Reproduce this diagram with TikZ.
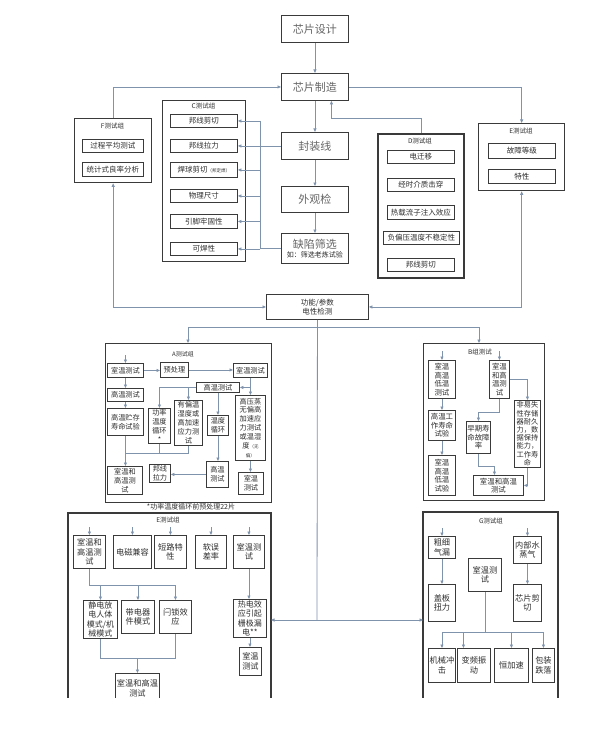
\documentclass[tikz,border=0pt]{standalone}
\usepackage{fontspec}
\setmainfont{Noto Sans CJK SC}
\usetikzlibrary{arrows.meta}
\definecolor{lnc}{HTML}{7F93AD}
\definecolor{bdc}{HTML}{3A3A3A}
\definecolor{txc}{HTML}{2E2E2E}
\tikzset{
 bx/.style={draw=bdc,line width=0.9pt,fill=white,inner sep=0pt,align=center,text=txc,font=\fontsize{7.5}{9}\selectfont},
 grp/.style={line width=1.3pt},
 grpd/.style={line width=1.9pt},
 fsT/.style={font=\fontsize{11}{13}\selectfont,text=black!60},
 fsA/.style={font=\fontsize{7.2}{8.9}\selectfont},
 fsB/.style={font=\fontsize{7.4}{8.6}\selectfont},
 fsE/.style={font=\fontsize{8.2}{9.6}\selectfont},
 ttl/.style={font=\fontsize{6.5}{7.5}\selectfont,text=txc,inner sep=0pt},
 cn/.style={draw=lnc,line width=0.8pt,-{Triangle[length=3.5pt,width=3pt]}},
 bcn/.style={draw=lnc,line width=0.8pt,{Triangle[length=3.5pt,width=3pt]}-{Triangle[length=3.5pt,width=3pt]}},
 ln/.style={draw=lnc,line width=0.8pt},
 gline/.style={draw=bdc,line width=1.3pt},
}
\newcommand\bx[6][]{\node[bx,minimum width=#4pt,minimum height=#5pt,anchor=north west,#1] (#2) at (#3) {#6};}
\begin{document}
\begin{tikzpicture}[x=1pt,y=-1pt]
\useasboundingbox (0,0) rectangle (597,741);
\fill[white] (0,0) rectangle (597,741);
\begin{scope}
\clip (0,0) rectangle (597,697);
% ---------- main flow ----------
\bx[fsT]{des}{281,15}{67}{27}{芯片设计}
\bx[fsT]{mfg}{281,73}{67}{27}{芯片制造}
\bx[fsT]{pkg}{281,132}{67}{27}{封装线}
\bx[fsT]{vis}{281,186}{67}{26}{外观检}
\bx{scr}{281,233}{67}{30}{{\fontsize{11}{12}\selectfont\color{black!60}缺陷筛选}\\{\fontsize{7}{8}\selectfont 如：筛选老炼试验}}
\draw[cn] (des) -- (mfg);
\draw[cn] (mfg) -- (pkg);
\draw[cn] (pkg) -- (vis);
\draw[cn] (vis) -- (scr);
% ---------- F group ----------
\bx[grp]{F}{74,118}{77}{64}{}
\node[ttl] (Ft) at (112.5,126) {F测试组};
\bx{f1}{82,139}{61}{13}{过程平均测试}
\bx{f2}{82,162}{61}{14}{统计式良率分析}
\draw[cn] (F.north) |- (mfg.west);
% ---------- C group ----------
\bx[grp]{C}{162,100}{83}{161}{}
\node[ttl] (Ct) at (203.5,106) {C测试组};
\bx{c1}{170,114}{67}{13}{邦线剪切}
\bx{c2}{170,139}{67}{13}{邦线拉力}
\bx{c3}{170,162}{67}{15}{焊球剪切{\fontsize{4.5}{5}\selectfont（邦定焊）}}
\bx{c4}{170,189}{67}{13}{物理尺寸}
\bx{c5}{170,214}{67}{14}{引脚牢固性}
\bx{c6}{170,242}{67}{13}{可焊性}
\coordinate (bus) at (260,0);
\draw[ln] (pkg.west) -- (pkg.west -| bus);
\draw[ln] (scr.west) -- (scr.west -| bus);
\draw[ln] (c1.east -| bus) -- (c6.east -| bus);
\foreach \c in {c1,c2,c3,c4,c5,c6} \draw[cn] (\c.east -| bus) -- (\c.east);
% ---------- D group ----------
\bx[grpd]{D}{377,133}{86}{144}{}
\node[ttl] (Dt) at (420,141) {D测试组};
\bx{d1}{387,150}{67}{13}{电迁移}
\bx{d2}{387,178}{67}{13}{经时介质击穿}
\bx{d3}{387,205}{67}{14}{热载流子注入效应}
\bx{d4}{383,231}{76}{13}{负偏压温度不稳定性}
\bx{d5}{387,258}{67}{13}{邦线剪切}
\draw[cn] (D.north) -- ++(0,-15) -| ([xshift=16.5pt]mfg.south);
% ---------- E group (top) ----------
\bx[grp]{Et}{478,123}{86}{67}{}
\node[ttl] (Ett) at (521,131) {E测试组};
\bx{et1}{488,143}{67}{15}{故障等级}
\bx{et2}{488,169}{67}{14}{特性}
\draw[cn] (mfg.east) -| (Et.north);
% ---------- function test ----------
\bx{func}{266,294}{102}{25}{功能/参数\\电性检测}
\draw[bcn] (F.south) |- (func.west);
\draw[bcn] (Et.south) |- (func.east);
\coordinate (hl) at (188,327);
\coordinate (hr) at (479,327);
\coordinate (cm) at (317,620);
\draw[ln] (func.south) -- (cm);
\draw[ln] (hl) -- (hr);
% ---------- A group ----------
\bx[grp]{A}{105,343}{166}{159}{}
\draw[cn] (hl) -- (hl |- A.north);
\node[ttl,font=\fontsize{6}{7}\selectfont] (At) at (183,354) {A测试组};
\bx[fsA]{aL1}{107,363}{36}{14}{室温测试}
\bx[fsA]{aP}{160,362}{28}{15}{预处理}
\bx[fsA]{aR1}{233,363}{34}{14}{室温测试}
\bx[fsA]{aL2}{107,388}{36}{13}{高温测试}
\bx[fsA]{aL3}{107,408}{36}{27}{高温贮存\\寿命试验}
\bx[fsA]{aM}{196,382}{43}{10}{高温测试}
\bx[fsA]{aPw}{148,408}{22}{35}{功率\\温度\\循环\\*}
\bx[fsA]{aBias}{174,400}{28}{45}{有偏温\\湿度或\\高加速\\应力测\\试}
\bx[fsA]{aTC}{207,415}{21}{20}{温度\\循环}
\bx[fsA]{aHP}{235,395}{30}{65}{高压蒸\\无偏高\\加速应\\力测试\\或温湿\\度{\fontsize{4.5}{5}\selectfont（无}\\{\fontsize{4.5}{5}\selectfont 偏）}}
\bx[fsA]{aL4}{107,466}{35}{28}{室温和\\高温测\\试}
\bx[fsA]{aWB}{149,464}{21}{18}{邦线\\拉力}
\bx[fsA]{aHT}{206,461}{22}{26}{高温\\测试}
\bx[fsA]{aRT}{238,472}{25}{22}{室温\\测试}
\draw[cn] ([yshift=8pt]aL1.north) -- (aL1.north);
\draw[cn] (aL1.east) -- (aL1.east -| aP.west);
\draw[cn] (aP.east) -- (aP.east -| aR1.west);
\draw[cn] (aL1.south) -- (aL2.north);
\draw[cn] (aL2.south) -- (aL3.north);
\draw[cn] (aL3.south) -- (aL3.south |- aL4.north);
\coordinate (aj) at (125,453);
\draw[ln] (aPw.south) -- (aPw.south |- aj);
\draw[ln] (aBias.south) |- (aj);
\draw[cn] (aR1.south) -- (aHP.north);
\draw[cn] (aR1.south |- aM.east) -- (aM.east);
\draw[cn] (aM.west) -| (aPw.north);
\draw[cn] (aBias.north |- aM.west) -- (aBias.north);
\draw[cn] (aM.south) -- (aM.south |- aTC.north);
\draw[cn] (aTC.south) -- (aTC.south |- aHT.north);
\draw[cn] (aHT.west) -- (aHT.west -| aWB.east);
\draw[cn] (aHP.south) -- (aHP.south |- aRT.north);
\node[ttl,font=\fontsize{7}{8}\selectfont] (Anote) at (191,507) {*功率温度循环前预处理22片};
% ---------- B group ----------
\bx[grp]{B}{423,343}{121}{157}{}
\draw[cn] (hr) -- (hr |- B.north);
\node[ttl] (Bt) at (480,352) {B组测试};
\bx[fsB]{bA}{428,360}{27}{38}{室温\\高温\\低温\\测试}
\bx[fsB]{bB}{428,410}{27}{30}{高温工\\作寿命\\试验}
\bx[fsB]{bC}{428,455}{27}{40}{室温\\高温\\低温\\试验}
\bx[fsB]{bD}{489,360}{20}{38}{室温\\和高\\温测\\试}
\bx[fsB]{bE}{466,421}{24}{32}{早期寿\\命故障\\率}
\bx[fsB,font=\fontsize{7.2}{8.2}\selectfont]{bF}{514,400}{26}{67}{非易失\\性存储\\器耐久\\力，数\\据保持\\能力，\\工作寿\\命}
\bx[fsB]{bG}{473,475}{50}{20}{室温和高温\\测试}
\draw[cn] ([yshift=9pt]bA.north) -- (bA.north);
\draw[cn] ([yshift=9pt]bD.north) -- (bD.north);
\draw[cn] (bA.south) -- (bB.north);
\draw[cn] (bB.south) -- (bC.north);
\draw[cn] (bD.south) -- ++(0,13) -| (bE.north);
\draw[cn] (bD.east) -| (bF.north);
\draw[cn] (bE.south) -- ++(0,12) -| ([xshift=-4pt]bG.north);
\draw[cn] (bF.south) |- (bG.east);
% ---------- E group (bottom) ----------
\draw[gline] (68,700) |- (271,513) -- (271,700);
\coordinate (Er) at (271,620);
\draw[cn] (cm) -- (Er);
\node[ttl] (Ebt) at (168,520) {E测试组};
\bx[fsE]{e1}{73,535}{32}{33}{室温和\\高温测\\试}
\bx[fsE]{e2}{113,535}{38}{33}{电磁兼容}
\bx[fsE]{e3}{154,535}{32}{33}{短路特\\性}
\bx[fsE]{e4}{195,535}{31}{33}{软误\\差率}
\bx[fsE]{e5}{233,535}{31}{33}{室温测\\试}
\bx[fsE,font=\fontsize{8}{9.2}\selectfont]{e6}{83,600}{34}{38}{静电放\\电人体\\模式/机\\械模式}
\bx[fsE]{e7}{121,600}{33}{33}{带电器\\件模式}
\bx[fsE]{e8}{159,600}{32}{33}{闩锁效\\应}
\bx[fsE,font=\fontsize{8}{9.2}\selectfont]{e9}{233,599}{33}{38}{热电效\\应引起\\栅极漏\\电**}
\bx[fsE]{e10}{239,647}{22}{28}{室温\\测试}
\bx[fsE]{e11}{115,673}{44}{30}{室温和高温\\测试}
\foreach \n in {e1,e2,e3,e4,e5} \draw[cn] ([yshift=8pt]\n.north) -- (\n.north);
\coordinate (ej1) at (0,585);
\coordinate (ej2) at (0,658);
\draw[ln] (e1.south) |- (e8.north |- ej1);
\foreach \n in {e6,e7,e8} \draw[cn] (\n.north |- ej1) -- (\n.north);
\draw[ln] (e6.south) |- (e8.south |- ej2) -- (e8.south);
\draw[cn] (e11.north |- ej2) -- (e11.north);
\draw[cn] (e5.south) -- (e5.south |- e9.north);
\draw[cn] (e9.south) -- (e9.south |- e10.north);
% ---------- G group ----------
\draw[gline] (423,700) |- (558,512) -- (558,700);
\coordinate (Gl) at (423,620);
\draw[cn] (cm) -- (Gl);
\node[ttl] (Gt) at (491,521) {G测试组};
\bx[fsE]{g1}{428,536}{27}{22}{粗细\\气漏}
\bx[fsE]{g2}{428,584}{27}{37}{盖板\\扭力}
\bx[fsE]{g3}{468,558}{33}{33}{室温测\\试}
\bx[fsE]{g4}{513,536}{28}{27}{内部水\\蒸气}
\bx[fsE]{g5}{513,584}{28}{37}{芯片剪\\切}
\bx[fsE]{g6}{428,648}{27}{34}{机械冲\\击}
\bx[fsE]{g7}{457,648}{33}{34}{变频振\\动}
\bx[fsE]{g8}{494,648}{34}{34}{恒加速}
\bx[fsE]{g9}{532,648}{22}{34}{包装\\跌落}
\draw[cn] ([yshift=8pt]g1.north) -- (g1.north);
\draw[cn] ([yshift=8pt]g4.north) -- (g4.north);
\draw[cn] (g1.south) -- (g2.north);
\draw[cn] (g4.south) -- (g5.north);
\coordinate (gj) at (0,632);
\draw[ln] (g3.south) -- (g3.south |- gj);
\draw[ln] (g6.north |- gj) -- (g9.north |- gj);
\draw[cn] (g6.north |- gj) -- (g6.north);
\draw[cn] ([xshift=-10.5pt]g7.north |- gj) -- ([xshift=-10.5pt]g7.north);
\draw[cn] (g8.north |- gj) -- (g8.north);
\draw[cn] (g9.north |- gj) -- (g9.north);
\end{scope}
\end{tikzpicture}
\end{document}
